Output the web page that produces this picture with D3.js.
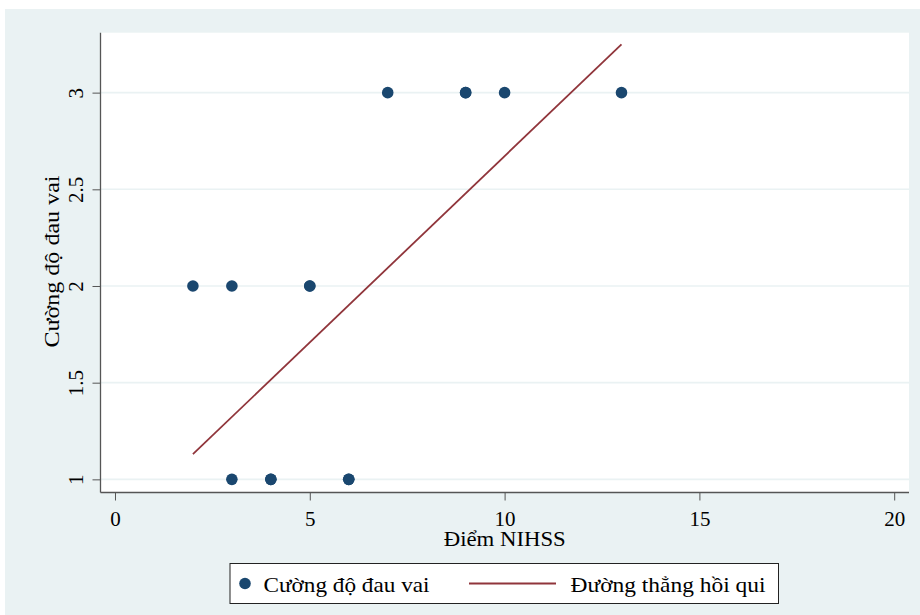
<!DOCTYPE html>
<html>
<head>
<meta charset="utf-8">
<script src="https://cdn.jsdelivr.net/npm/d3@7"></script>
<style>
  body { margin: 0; background: #fff; }
  svg { display: block; font-family: "Liberation Serif", "Times New Roman", serif; }
</style>
</head>
<body>
<div id="chart"></div>
<script>
// scatter points (some appear twice, drawn on top of each other)
const nihss = [7, 9, 9, 10, 13, 2, 3, 5, 5, 3, 4, 4, 6, 6]
const painLevel = [3, 3, 3, 3, 3, 2, 2, 2, 2, 1, 1, 1, 1, 1]

// fitted line end points
const fitX = [2, 13]
const fitY = [1.13, 3.25]

const xTicks = [0, 5, 10, 15, 20]
const yTicks = [1, 1.5, 2, 2.5, 3]

const xTitle = "Điểm NIHSS"
const yTitle = "Cường độ đau vai"
const legendNames = ["Cường độ đau vai", "Đường thẳng hồi qui"]

const width = 920, height = 615
const navy = "#1a476f", maroon = "#90353b", bluishGray = "#eaf2f3"

const svg = d3.select("#chart").append("svg")
    .attr("width", width)
    .attr("height", height)

// outer graph region
svg.append("rect")
    .attr("x", 5).attr("y", 9)
    .attr("width", width - 5).attr("height", height - 9)
    .attr("fill", bluishGray)

const plot = { left: 100.5, right: 909, top: 32.7, bottom: 492.5 }

const x = d3.scaleLinear().domain([-0.372, 20.38]).range([plot.left, plot.right])
const y = d3.scaleLinear().domain([0.932, 3.31]).range([plot.bottom, plot.top])

// plot region
svg.append("rect")
    .attr("x", plot.left).attr("y", plot.top)
    .attr("width", plot.right - plot.left).attr("height", plot.bottom - plot.top)
    .attr("fill", "#fff")

// horizontal grid
svg.append("g")
    .selectAll("line")
    .data(yTicks)
    .join("line")
    .attr("x1", plot.left).attr("x2", plot.right)
    .attr("y1", d => y(d)).attr("y2", d => y(d))
    .attr("stroke", bluishGray)
    .attr("stroke-width", 1.6)

// y axis
const yAxis = svg.append("g")
    .attr("transform", "translate(" + plot.left + ",0)")
    .call(d3.axisLeft(y).tickValues(yTicks).tickSize(8).tickSizeOuter(0).tickFormat(d3.format("")))
yAxis.select(".domain").remove()
yAxis.selectAll(".tick line").attr("stroke", "#555")
yAxis.selectAll(".tick text")
    .attr("x", 0).attr("dy", 0)
    .attr("transform", "translate(-18,0) rotate(-90)")
    .attr("text-anchor", "middle")
    .attr("font-family", "Liberation Serif")
    .attr("font-size", 21)
    .attr("fill", "#000")

// x axis
const xAxis = svg.append("g")
    .attr("transform", "translate(0," + plot.bottom + ")")
    .call(d3.axisBottom(x).tickValues(xTicks).tickSize(8).tickSizeOuter(0))
xAxis.select(".domain").remove()
xAxis.selectAll(".tick line").attr("stroke", "#555")
xAxis.selectAll(".tick text")
    .attr("y", 0).attr("dy", 0)
    .attr("transform", "translate(0,33)")
    .attr("font-family", "Liberation Serif")
    .attr("font-size", 21)
    .attr("fill", "#000")

// axis lines
svg.append("line")
    .attr("x1", plot.left).attr("x2", plot.left)
    .attr("y1", plot.top).attr("y2", plot.bottom)
    .attr("stroke", "#555").attr("stroke-width", 1.3)
svg.append("line")
    .attr("x1", plot.left).attr("x2", plot.right)
    .attr("y1", plot.bottom).attr("y2", plot.bottom)
    .attr("stroke", "#555").attr("stroke-width", 1.3)

// titles (the original face runs a little wider than Liberation Serif)
svg.append("text")
    .attr("x", (plot.left + plot.right) / 2)
    .attr("y", 546)
    .attr("text-anchor", "middle")
    .attr("font-size", 21)
    .attr("textLength", 122)
    .attr("lengthAdjust", "spacingAndGlyphs")
    .text(xTitle)

svg.append("text")
    .attr("transform", "translate(59,261.5) rotate(-90)")
    .attr("text-anchor", "middle")
    .attr("font-size", 21)
    .attr("textLength", 172)
    .attr("lengthAdjust", "spacingAndGlyphs")
    .text(yTitle)

// regression line
const line = d3.line().x(d => x(d[0])).y(d => y(d[1]))
svg.append("path")
    .datum(d3.zip(fitX, fitY))
    .attr("d", line)
    .attr("fill", "none")
    .attr("stroke", maroon)
    .attr("stroke-width", 1.8)

// points
svg.append("g")
    .selectAll("circle")
    .data(d3.zip(nihss, painLevel))
    .join("circle")
    .attr("cx", d => x(d[0]))
    .attr("cy", d => y(d[1]))
    .attr("r", 5.8)
    .attr("fill", navy)

// legend
const legend = svg.append("g")
legend.append("rect")
    .attr("x", 230).attr("y", 563.5)
    .attr("width", 548.5).attr("height", 40)
    .attr("fill", "#fff")
    .attr("stroke", "#222")
    .attr("stroke-width", 1)
legend.append("circle")
    .attr("cx", 245).attr("cy", 583.5).attr("r", 5.8)
    .attr("fill", navy)
legend.append("text")
    .attr("x", 263.5).attr("y", 592)
    .attr("font-size", 21)
    .attr("textLength", 166)
    .attr("lengthAdjust", "spacingAndGlyphs")
    .text(legendNames[0])
legend.append("line")
    .attr("x1", 469).attr("x2", 556)
    .attr("y1", 583.5).attr("y2", 583.5)
    .attr("stroke", maroon).attr("stroke-width", 1.8)
legend.append("text")
    .attr("x", 570.5).attr("y", 592)
    .attr("font-size", 21)
    .attr("textLength", 195)
    .attr("lengthAdjust", "spacingAndGlyphs")
    .text(legendNames[1])
</script>
</body>
</html>
